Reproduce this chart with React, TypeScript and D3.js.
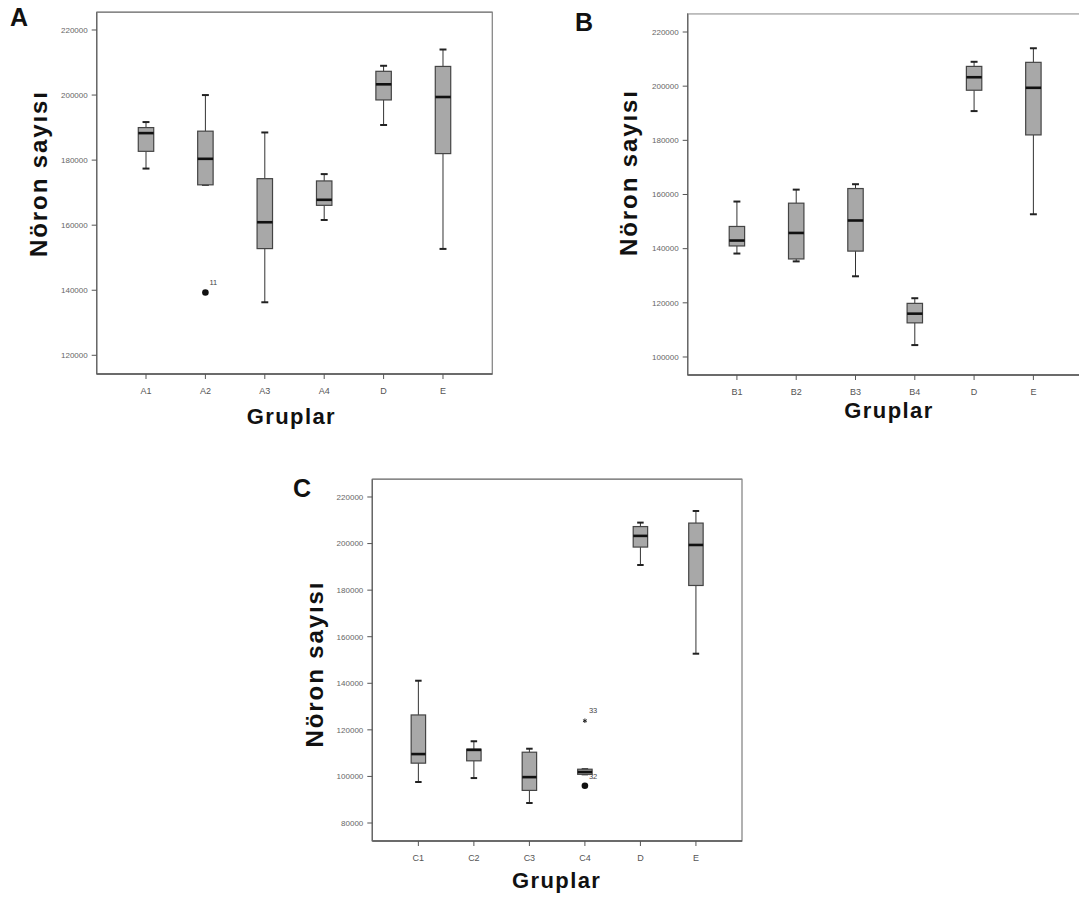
import React from 'react';
import * as d3 from 'd3';

// Panel A
const groupsA = ['A1', 'A2', 'A3', 'A4', 'D', 'E'];
const lowA = [177400, 172400, 136300, 161600, 190800, 152700];
const q1A = [182700, 172400, 152800, 166100, 198500, 182000];
const medA = [188300, 180400, 160900, 167800, 203300, 199400];
const q3A = [190000, 188900, 174300, 173600, 207300, 208800];
const highA = [191700, 200000, 188500, 175700, 209000, 214000];
const ticksA = [120000, 140000, 160000, 180000, 200000, 220000];
const outliersA = [{ group: 'A2', value: 139300, label: '11', kind: 'circle' }];

// Panel B
const groupsB = ['B1', 'B2', 'B3', 'B4', 'D', 'E'];
const lowB = [138200, 135300, 129800, 104400, 190800, 152700];
const q1B = [141000, 136200, 139100, 112600, 198500, 182000];
const medB = [143000, 145800, 150400, 116000, 203300, 199400];
const q3B = [148200, 156800, 162200, 119800, 207300, 208800];
const highB = [157400, 161800, 163800, 121700, 209000, 214000];
const ticksB = [100000, 120000, 140000, 160000, 180000, 200000, 220000];
const outliersB: any[] = [];

// Panel C
const groupsC = ['C1', 'C2', 'C3', 'C4', 'D', 'E'];
const lowC = [97600, 99300, 88600, 100900, 190800, 152700];
const q1C = [105700, 106700, 94000, 100900, 198500, 182000];
const medC = [109600, 111400, 99700, 101900, 203300, 199400];
const q3C = [126400, 111700, 110400, 103100, 207300, 208800];
const highC = [141100, 115100, 111900, 103100, 209000, 214000];
const ticksC = [80000, 100000, 120000, 140000, 160000, 180000, 200000, 220000];
const outliersC = [
  { group: 'C4', value: 123900, label: '33', kind: 'star' },
  { group: 'C4', value: 96000, label: '32', kind: 'circle' },
];

const FONT = '"Liberation Sans", Arial, sans-serif';

const panels = [
  {
    letter: 'A', groups: groupsA, low: lowA, q1: q1A, med: medA, q3: q3A, high: highA,
    ticks: ticksA, outliers: outliersA, domain: [114250, 225440],
    frame: { left: 96.7, top: 12.3, right: 492.3, bottom: 374 }, topStroke: '#888',
    letterPos: [10, 26], yLabelPos: [47, 173.5], xLabelPos: [291.4, 424],
  },
  {
    letter: 'B', groups: groupsB, low: lowB, q1: q1B, med: medB, q3: q3B, high: highB,
    ticks: ticksB, outliers: outliersB, domain: [93350, 226760],
    frame: { left: 687.7, top: 13.7, right: 1082.6, bottom: 375 }, topStroke: '#bbb',
    letterPos: [575, 31], yLabelPos: [637, 172.5], xLabelPos: [889, 418],
  },
  {
    letter: 'C', groups: groupsC, low: lowC, q1: q1C, med: medC, q3: q3C, high: highC,
    ticks: ticksC, outliers: outliersC, domain: [72270, 227600],
    frame: { left: 372.3, top: 479.3, right: 742, bottom: 841 }, topStroke: '#888',
    letterPos: [293, 497], yLabelPos: [323, 664], xLabelPos: [556.7, 888],
  },
];

const starPath = d3.symbol().type(d3.symbolAsterisk).size(14)();

const BoxPanel = ({ p }: { p: any }) => {
  const f = p.frame;
  const x = d3.scalePoint<string>().domain(p.groups).range([f.left, f.right]).padding(0.83);
  const y = d3.scaleLinear().domain(p.domain).range([f.bottom, f.top]);
  const bw = x.step() * 0.26;
  const cw = bw * 0.45;

  return (
    <g>
      <text x={p.letterPos[0]} y={p.letterPos[1]} fontFamily={FONT} fontWeight="bold" fontSize={25} fill="#111">
        {p.letter}
      </text>

      <rect x={f.left} y={f.top} width={f.right - f.left} height={f.bottom - f.top}
        fill="none" stroke="#888" strokeWidth={1.3} />
      <line x1={f.left} x2={f.right} y1={f.top} y2={f.top} stroke={p.topStroke} strokeWidth={1.6} />
      <line x1={f.left} x2={f.right} y1={f.bottom} y2={f.bottom} stroke="#555" strokeWidth={1.4} />
      <line x1={f.left} x2={f.left} y1={f.top} y2={f.bottom} stroke="#666" strokeWidth={1.3} />

      {p.ticks.map((t: number) => (
        <g key={t}>
          <line x1={f.left - 5} x2={f.left} y1={y(t)} y2={y(t)} stroke="#555" strokeWidth={1} />
          <text x={f.left - 9} y={y(t)} dy="0.35em" textAnchor="end" fontFamily={FONT} fontSize={8} fill="#666">
            {t}
          </text>
        </g>
      ))}

      {p.groups.map((g: string) => (
        <g key={g}>
          <line x1={x(g)} x2={x(g)} y1={f.bottom} y2={f.bottom + 5} stroke="#555" strokeWidth={1} />
          <text x={x(g)} y={f.bottom + 17} dy="0.35em" textAnchor="middle" fontFamily={FONT} fontSize={9} fill="#555">
            {g}
          </text>
        </g>
      ))}

      {p.groups.map((g: string, i: number) => {
        const cx = x(g) as number;
        return (
          <g key={'box' + g}>
            <line x1={cx} x2={cx} y1={y(p.high[i])} y2={y(p.q3[i])} stroke="#333" strokeWidth={1} />
            <line x1={cx} x2={cx} y1={y(p.q1[i])} y2={y(p.low[i])} stroke="#333" strokeWidth={1} />
            <line x1={cx - cw / 2} x2={cx + cw / 2} y1={y(p.high[i])} y2={y(p.high[i])} stroke="#222" strokeWidth={2} />
            <line x1={cx - cw / 2} x2={cx + cw / 2} y1={y(p.low[i])} y2={y(p.low[i])} stroke="#222" strokeWidth={2} />
            <rect x={cx - bw / 2} y={y(p.q3[i])} width={bw} height={y(p.q1[i]) - y(p.q3[i])}
              fill="#a8a8a8" stroke="#444" strokeWidth={1.2} />
            <line x1={cx - bw / 2} x2={cx + bw / 2} y1={y(p.med[i])} y2={y(p.med[i])} stroke="#111" strokeWidth={2.6} />
          </g>
        );
      })}

      {p.outliers.map((o: any) => {
        const cx = x(o.group) as number;
        const cy = y(o.value);
        return (
          <g key={o.label}>
            {o.kind === 'circle'
              ? <circle cx={cx} cy={cy} r={3.3} fill="#111" />
              : <path d={starPath} transform={`translate(${cx},${cy})`} stroke="#222" strokeWidth={1} fill="none" />}
            <text x={cx + 4} y={o.kind === 'circle' && p.letter === 'C' ? cy - 7 : cy - 8} fontFamily={FONT}
              fontSize={7.5} fill="#444">
              {o.label}
            </text>
          </g>
        );
      })}

      <text transform={`translate(${p.yLabelPos[0]},${p.yLabelPos[1]}) rotate(-90)`} textAnchor="middle"
        fontFamily={FONT} fontWeight="bold" fontSize={24} letterSpacing={1.9} fill="#111">
        Nöron sayısı
      </text>
      <text x={p.xLabelPos[0]} y={p.xLabelPos[1]} textAnchor="middle" fontFamily={FONT} fontWeight="bold"
        fontSize={22} letterSpacing={1.4} fill="#111">
        Gruplar
      </text>
    </g>
  );
};

export default function App() {
  return (
    <svg width={1079} height={899} style={{ position: 'absolute', left: 0, top: 0, background: '#fff' }}>
      <rect width={1079} height={899} fill="#fff" />
      {panels.map((p) => (
        <BoxPanel key={p.letter} p={p} />
      ))}
    </svg>
  );
}
